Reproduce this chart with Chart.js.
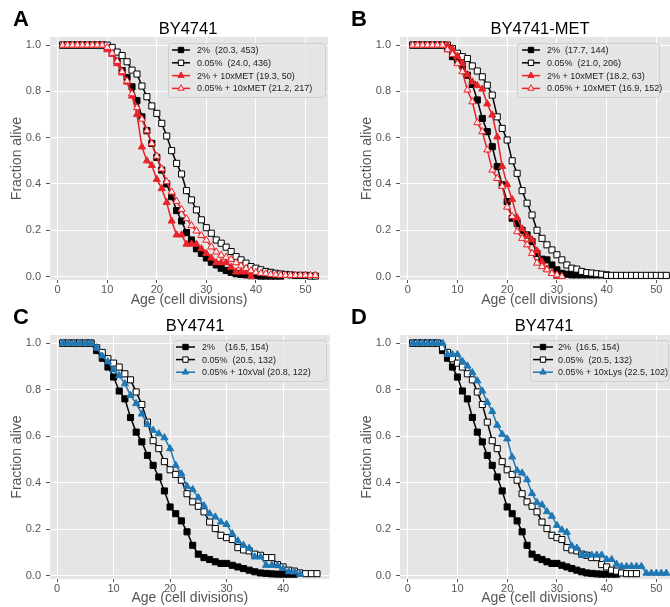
<!DOCTYPE html>
<html>
<head>
<meta charset="utf-8">
<script src="https://cdn.jsdelivr.net/npm/chart.js@4.4.1/dist/chart.umd.min.js"></script>
<style>
    html, body { margin: 0; padding: 0; background: #fff; }
    body { width: 670px; height: 607px; position: relative; overflow: hidden; }
    canvas { position: absolute; }
</style>
</head>
<body>
<canvas id="chartA"></canvas>
<canvas id="chartB"></canvas>
<canvas id="chartC"></canvas>
<canvas id="chartD"></canvas>
<script>
// Ages (cell divisions), one point per division
const ages = [1,2,3,4,5,6,7,8,9,10,11,12,13,14,15,16,17,18,19,20,21,22,23,24,25,26,
              27,28,29,30,31,32,33,34,35,36,37,38,39,40,41,42,43,44,45,46,47,48,49,50,51,52];

const xTicksWide = [0, 10, 20, 30, 40, 50];
const xTicksShort = [0, 10, 20, 30, 40];
const yTicks = [0, 0.2, 0.4, 0.6, 0.8, 1.0];

// Panel A: BY4741
const aGlc2 = [1,1,1,1,1,1,1,1,1,0.99,0.97,0.93,0.89,0.86,0.82,0.76,0.69,0.63,0.575,0.515,0.46,0.40,
               0.345,0.285,0.24,0.19,0.158,0.12,0.10,0.08,0.062,0.05,0.036,0.026,0.018,0.012,0.009,
               0.007,0.004,0.004,0.002,0.002,0.002,0.002,0.002];
const aGlc005 = [1,1,1,1,1,1,1,1,1,1,0.99,0.97,0.955,0.928,0.892,0.875,0.823,0.777,0.737,0.705,0.662,
                 0.607,0.544,0.489,0.443,0.371,0.331,0.288,0.245,0.211,0.187,0.158,0.144,0.127,0.108,
                 0.086,0.072,0.058,0.043,0.036,0.029,0.022,0.018,0.014,0.011,0.009,0.007,0.005,0.005,
                 0.005,0.002,0.002];
const aGlc2Met = [1,1,1,1,1,1,1,1,1,0.98,0.96,0.92,0.88,0.84,0.78,0.70,0.56,0.50,0.48,0.42,0.38,0.32,
                  0.24,0.18,0.18,0.14,0.14,0.14,0.12,0.10,0.08,0.06,0.06,0.06,0.04,0.02,0.02,0.02,0];
const aGlc005Met = [1,1,1,1,1,1,1,1,1,0.99,0.965,0.93,0.885,0.845,0.79,0.73,0.68,0.63,0.575,0.52,0.465,
                    0.41,0.365,0.325,0.29,0.25,0.22,0.197,0.177,0.157,0.128,0.106,0.092,0.083,0.074,
                    0.06,0.046,0.035,0.025,0.018,0.014,0.012,0.009,0.007,0.005,0.005,0.005,0.005,0.005,
                    0.005,0.005,0.005];
const aLabels = ['2%  (20.3, 453)', '0.05%  (24.0, 436)', '2% + 10xMET (19.3, 50)', '0.05% + 10xMET (21.2, 217)'];

// Panel B: BY4741-MET
const bGlc2 = [1,1,1,1,1,1,1,0.985,0.95,0.935,0.91,0.87,0.83,0.763,0.683,0.626,0.561,0.475,0.396,
               0.324,0.252,0.23,0.2,0.18,0.151,0.1,0.075,0.072,0.05,0.029,0.014,0.01,0.007,0.007,
               0.007,0.007,0.007,0.007,0.007,0.007];
const bGlc005 = [1,1,1,1,1,1,1,1,0.985,0.965,0.95,0.942,0.91,0.888,0.863,0.827,0.784,0.69,0.64,0.59,
                 0.5,0.446,0.371,0.317,0.266,0.2,0.165,0.137,0.115,0.094,0.072,0.05,0.036,0.032,0.022,
                 0.017,0.015,0.012,0.01,0.005,0.005,0.005,0.005,0.005,0.005,0.005,0.005,0.005,0.005,
                 0.005,0.005,0.005];
const bGlc2Met = [1,1,1,1,1,1,1,1,0.984,0.952,0.921,0.873,0.841,0.825,0.81,0.746,0.698,0.603,0.476,
                  0.397,0.333,0.254,0.206,0.175,0.159,0.111,0.063,0.032,0.016,0];
const bGlc005Met = [1,1,1,1,1,1,1,0.98,0.96,0.92,0.885,0.806,0.755,0.665,0.626,0.547,0.46,0.424,0.39,
                    0.30,0.26,0.194,0.165,0.137,0.10,0.058,0.043,0.029,0.013,0.007,0];
const bLabels = ['2%  (17.7, 144)', '0.05%  (21.0, 206)', '2% + 10xMET (18.2, 63)', '0.05% + 10xMET (16.9, 152)'];

// Panels C and D share the two glucose controls
const ctrlGlc2 = [1,1,1,1,1,1,0.968,0.935,0.897,0.854,0.794,0.76,0.68,0.617,0.575,0.517,0.474,0.424,
                  0.364,0.295,0.266,0.235,0.188,0.13,0.092,0.077,0.069,0.059,0.052,0.052,0.044,0.037,
                  0.03,0.023,0.016,0.011,0.009,0.007,0.006,0.006,0.006,0.006];
const ctrlGlc005 = [1,1,1,1,1,1,0.98,0.96,0.933,0.914,0.897,0.868,0.842,0.79,0.736,0.66,0.58,0.546,
                    0.49,0.455,0.435,0.41,0.352,0.317,0.298,0.274,0.23,0.202,0.173,0.163,0.155,0.12,
                    0.11,0.106,0.092,0.087,0.077,0.077,0.047,0.037,0.023,0.019,0.011,0.008,0.008,0.008];
const cGlc005Val = [1,1,1,1,1,1,0.98,0.945,0.92,0.885,0.86,0.825,0.775,0.74,0.695,0.65,0.625,0.61,
                    0.593,0.546,0.474,0.438,0.384,0.37,0.335,0.30,0.266,0.252,0.23,0.22,0.18,0.149,
                    0.13,0.117,0.08,0.08,0.044,0.044,0.044,0.03,0.016,0.016,0.006];
const dGlc005Lys = [1,1,1,1,1,1,1,0.951,0.951,0.951,0.922,0.902,0.873,0.838,0.794,0.745,0.706,0.647,
                    0.608,0.588,0.51,0.451,0.441,0.412,0.353,0.314,0.304,0.275,0.255,0.216,0.196,
                    0.186,0.127,0.118,0.088,0.088,0.088,0.088,0.088,0.069,0.069,0.049,0.039,0.039,
                    0.039,0.039,0.039,0.01,0.01,0.01,0.01,0.01];
const cLabels = ['2%    (16.5, 154)', '0.05%  (20.5, 132)', '0.05% + 10xVal (20.8, 122)'];
const dLabels = ['2%  (16.5, 154)', '0.05%  (20.5, 132)', '0.05% + 10xLys (22.5, 102)'];

const FONT = "'Liberation Sans', Arial, Helvetica, sans-serif";
const RED = '#e8232a';
const BLUE = '#1f77b4';

// marker / line styles
const sqFilled = { line: '#000', fill: '#000', edge: '#000', shape: 'rect' };
const sqOpen = { line: '#000', fill: '#fff', edge: '#000', shape: 'rect' };
const triRed = { line: RED, fill: RED, edge: RED, shape: 'triangle' };
const triRedOpen = { line: RED, fill: '#fde6e6', edge: RED, shape: 'triangle' };
const triBlue = { line: BLUE, fill: BLUE, edge: BLUE, shape: 'triangle' };

const panels = [
    { id: 'chartA', left: 0, top: 0, width: 335, height: 309,
      area: { left: 50, top: 37, right: 328, bottom: 280 },
      xMin: -1.55, xMax: 54.55, xTicks: xTicksWide, yTitlePad: 8.3, xTitlePad: 0,
      letter: 'A', letterX: 13, letterY: 20, title: 'BY4741', titleX: 188, titleY: 29,
      legend: { x: 168, y: 43, w: 157, h: 54, lineX: 172, lineW: 18, textX: 197, rowY: 50, rowH: 12.8 },
      series: [aGlc2, aGlc005, aGlc2Met, aGlc005Met], styles: [sqFilled, sqOpen, triRed, triRedOpen], labels: aLabels },
    { id: 'chartB', left: 335, top: 0, width: 350, height: 309,
      area: { left: 65, top: 37, right: 344, bottom: 280 },
      xMin: -1.55, xMax: 54.55, xTicks: xTicksWide, yTitlePad: 23.3, xTitlePad: 0,
      letter: 'B', letterX: 351, letterY: 20, title: 'BY4741-MET', titleX: 540, titleY: 29,
      legend: { x: 517, y: 43, w: 142, h: 54, lineX: 522, lineW: 18, textX: 547, rowY: 50, rowH: 12.8 },
      series: [bGlc2, bGlc005, bGlc2Met, bGlc005Met], styles: [sqFilled, sqOpen, triRed, triRedOpen], labels: bLabels },
    { id: 'chartC', left: 0, top: 300, width: 335, height: 307,
      area: { left: 50, top: 35, right: 330, bottom: 279 },
      xMin: -1.25, xMax: 48.25, xTicks: xTicksShort, yTitlePad: 8.3, xTitlePad: 0,
      letter: 'C', letterX: 13, letterY: 318, title: 'BY4741', titleX: 195, titleY: 326,
      legend: { x: 173, y: 340, w: 153, h: 41, lineX: 176, lineW: 19, textX: 202, rowY: 347, rowH: 12.6 },
      series: [ctrlGlc2, ctrlGlc005, cGlc005Val], styles: [sqFilled, sqOpen, triBlue], labels: cLabels },
    { id: 'chartD', left: 335, top: 300, width: 350, height: 307,
      area: { left: 65, top: 35, right: 344, bottom: 279 },
      xMin: -1.55, xMax: 54.55, xTicks: xTicksWide, yTitlePad: 23.3, xTitlePad: 0,
      letter: 'D', letterX: 351, letterY: 318, title: 'BY4741', titleX: 544, titleY: 326,
      legend: { x: 530, y: 340, w: 138, h: 41, lineX: 533, lineW: 20, textX: 558, rowY: 347, rowH: 12.6 },
      series: [ctrlGlc2, ctrlGlc005, dGlc005Lys], styles: [sqFilled, sqOpen, triBlue], labels: dLabels }
];

function drawMarker(ctx, shape, x, y, r, fill, edge) {
    ctx.beginPath();
    if (shape === 'rect') {
        const h = r * Math.SQRT1_2;
        ctx.rect(x - h, y - h, 2 * h, 2 * h);
    } else {
        for (let k = 0; k < 3; k++) {
            const a = k * 2 * Math.PI / 3;
            const px = x + Math.sin(a) * r, py = y - Math.cos(a) * r;
            if (k === 0) ctx.moveTo(px, py); else ctx.lineTo(px, py);
        }
        ctx.closePath();
    }
    ctx.fillStyle = fill;
    ctx.fill();
    ctx.strokeStyle = edge;
    ctx.lineWidth = 1;
    ctx.stroke();
}

// gray panel background, letters, titles and the legend box
const decorPlugin = {
    id: 'decor',
    beforeDraw(chart) {
        const { ctx, chartArea: a } = chart;
        ctx.save();
        ctx.fillStyle = '#e5e5e5';
        ctx.fillRect(a.left, a.top, a.right - a.left, a.bottom - a.top);
        ctx.restore();
    },
    afterDraw(chart) {
        const p = panels.find(q => q.id === chart.canvas.id);
        const ctx = chart.ctx;
        const ox = p.left, oy = p.top;
        ctx.save();
        ctx.textBaseline = 'middle';

        ctx.fillStyle = '#000';
        ctx.font = `bold 22px ${FONT}`;
        ctx.textAlign = 'left';
        ctx.fillText(p.letter, p.letterX - ox, p.letterY - oy);

        ctx.font = `16.5px ${FONT}`;
        ctx.textAlign = 'center';
        ctx.fillText(p.title, p.titleX - ox, p.titleY - oy);

        const L = p.legend;
        ctx.beginPath();
        ctx.roundRect(L.x - ox + 0.5, L.y - oy + 0.5, L.w, L.h, 3);
        ctx.fillStyle = 'rgba(229,229,229,0.8)';
        ctx.fill();
        ctx.strokeStyle = '#cfcfcf';
        ctx.lineWidth = 1;
        ctx.stroke();

        ctx.font = `9px ${FONT}`;
        ctx.textAlign = 'left';
        p.labels.forEach((label, i) => {
            const s = p.styles[i];
            const y = L.rowY + i * L.rowH - oy;
            ctx.beginPath();
            ctx.moveTo(L.lineX - ox, y);
            ctx.lineTo(L.lineX + L.lineW - ox, y);
            ctx.strokeStyle = s.line;
            ctx.lineWidth = 1.5;
            ctx.stroke();
            drawMarker(ctx, s.shape, L.lineX + L.lineW / 2 - ox, y, s.shape === 'rect' ? 3.8 : 3.6, s.fill, s.edge);
            ctx.fillStyle = '#222';
            ctx.fillText(label, L.textX - ox, y + 0.5);
        });
        ctx.restore();
    }
};

function makeDataset(values, style, order) {
    return {
        data: values.map((v, i) => ({ x: ages[i], y: v })),
        borderColor: style.line,
        borderWidth: 1.5,
        pointStyle: style.shape,
        pointRadius: style.shape === 'rect' ? 4.3 : 4.1,
        pointBackgroundColor: style.fill,
        pointBorderColor: style.edge,
        pointBorderWidth: 1,
        tension: 0,
        fill: false,
        order: order
    };
}

panels.forEach(p => {
    const canvas = document.getElementById(p.id);
    canvas.width = p.width;
    canvas.height = p.height;
    canvas.style.left = p.left + 'px';
    canvas.style.top = p.top + 'px';

    new Chart(canvas, {
        type: 'line',
        data: {
            datasets: p.series.map((vals, i) => makeDataset(vals, p.styles[i], p.series.length - i))
        },
        options: {
            responsive: false,
            animation: false,
            devicePixelRatio: 1,
            layout: { padding: { left: 0, top: p.area.top, right: p.width - p.area.right, bottom: 0 } },
            plugins: { legend: { display: false }, tooltip: { enabled: false } },
            scales: {
                x: {
                    type: 'linear',
                    min: p.xMin,
                    max: p.xMax,
                    afterBuildTicks: s => { s.ticks = p.xTicks.map(v => ({ value: v })); },
                    afterFit: s => { s.height = p.height - p.area.bottom; },
                    grid: { color: '#ffffff', lineWidth: 1, tickColor: '#555', tickLength: 3 },
                    border: { display: false },
                    ticks: { color: '#555', font: { family: FONT, size: 11 }, padding: 0, maxRotation: 0 },
                    title: {
                        display: true, text: 'Age (cell divisions)', color: '#555',
                        font: { family: FONT, size: 14 }, padding: { top: 0, bottom: p.xTitlePad }
                    }
                },
                y: {
                    min: -0.015,
                    max: 1.035,
                    afterBuildTicks: s => { s.ticks = yTicks.map(v => ({ value: v })); },
                    afterFit: s => { s.width = p.area.left; },
                    grid: { color: '#ffffff', lineWidth: 1, tickColor: '#555', tickLength: 4 },
                    border: { display: false },
                    ticks: { color: '#555', font: { family: FONT, size: 11 }, padding: 5, callback: v => v.toFixed(1) },
                    title: {
                        display: true, text: 'Fraction alive', color: '#555',
                        font: { family: FONT, size: 14 }, padding: { top: p.yTitlePad, bottom: 0 }
                    }
                }
            }
        },
        plugins: [decorPlugin]
    });
});
</script>
</body>
</html>
